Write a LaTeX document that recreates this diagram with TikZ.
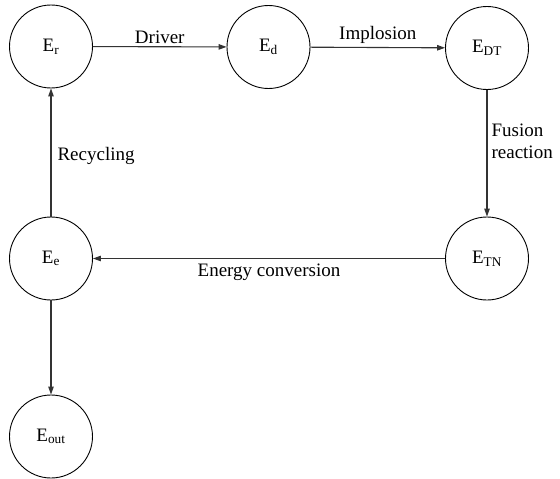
\documentclass[tikz,border=0pt]{standalone}
\usepackage{fontspec}
\setmainfont{Liberation Serif}
\usetikzlibrary{arrows.meta}
\begin{document}
\begin{tikzpicture}[x=1pt,y=-1pt,
  font=\fontsize{19}{22}\selectfont,
  state/.style={circle,draw,line width=0.9pt,minimum size=83pt,inner sep=0pt},
  flow/.style={draw=black!80,line width=1.1pt,-{Triangle[length=8pt,width=5.5pt]}},
  lbl/.style={inner sep=2pt}]
  \useasboundingbox (0,0) rectangle (560,479);
  % energy states
  \node[state] (Er)   at (51,46.5)   {E\textsubscript{r}};
  \node[state] (Ed)   at (268.5,47)  {E\textsubscript{d}};
  \node[state] (EDT)  at (487,48)    {E\textsubscript{DT}};
  \node[state] (ETN)  at (487,258.5) {E\textsubscript{TN}};
  \node[state] (Ee)   at (51,258.5)  {E\textsubscript{e}};
  \node[state] (Eout) at (51,436.5)  {E\textsubscript{out}};
  % energy flow
  \draw[flow] (Er) -- node[lbl,above,yshift=1pt] {Driver} (Ed);
  \draw[flow] (Ed) -- node[lbl,above,yshift=1pt] {Implosion} (EDT);
  \draw[flow] (EDT) -- node[lbl,right,align=left,yshift=12pt,xshift=2pt] {Fusion\\reaction} (ETN);
  \draw[flow] (ETN) -- node[lbl,below,yshift=-3pt] {Energy conversion} (Ee);
  \draw[flow] (Ee) -- node[lbl,right,xshift=4pt,yshift=-3pt] {Recycling} (Er);
  \draw[flow] (Ee) -- (Eout);
\end{tikzpicture}
\end{document}
